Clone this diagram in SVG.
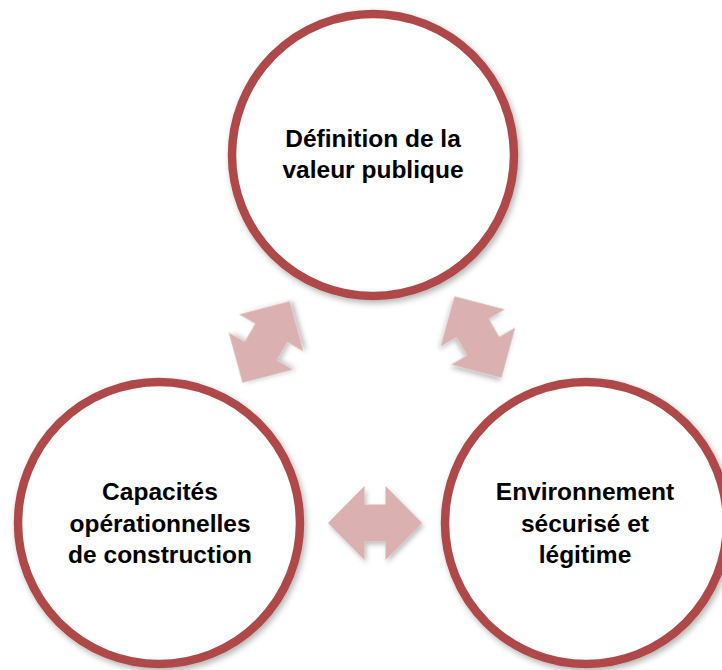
<svg xmlns="http://www.w3.org/2000/svg" width="722" height="670" viewBox="0 0 722 670">
<defs>
<style>
.node circle{fill:#ffffff;stroke:#AF4A48;stroke-width:8.5;filter:url(#sh)}
.node text{font-family:"Liberation Sans",Arial,sans-serif;font-weight:bold;font-size:24.5px;fill:#000;text-anchor:middle}
.arr{fill:#DAB0B0;filter:url(#sh2)}
</style>
<filter id="sh" x="-20%" y="-20%" width="140%" height="140%">
<feDropShadow dx="2" dy="3" stdDeviation="3" flood-color="#000" flood-opacity="0.3"/>
</filter>
<filter id="sh2" x="-30%" y="-30%" width="160%" height="160%">
<feDropShadow dx="2" dy="3" stdDeviation="2.5" flood-color="#000" flood-opacity="0.25"/>
</filter>
<path id="dbl" d="M -47 0 L -10.5 -37 L -10.5 -18.5 L 10.5 -18.5 L 10.5 -37 L 47 0 L 10.5 37 L 10.5 18.5 L -10.5 18.5 L -10.5 37 Z"/>
</defs>
<rect width="722" height="670" fill="#ffffff"/>
<g id="connectors">
<use href="#dbl" class="arr" transform="translate(266 342) rotate(-60)"/>
<use href="#dbl" class="arr" transform="translate(478 337) rotate(60)"/>
<use href="#dbl" class="arr" transform="translate(375 523)"/>
</g>
<g id="node-top" class="node">
<circle cx="373" cy="155" r="141"/>
<text x="373" y="147">Définition de la</text>
<text x="373" y="178">valeur publique</text>
</g>
<g id="node-left" class="node">
<circle cx="159" cy="523" r="141"/>
<text x="160" y="500">Capacités</text>
<text x="160" y="531.5">opérationnelles</text>
<text x="160" y="563">de construction</text>
</g>
<g id="node-right" class="node">
<circle cx="586" cy="523" r="141"/>
<text x="585" y="500">Environnement</text>
<text x="585" y="531.5">sécurisé et</text>
<text x="585" y="563">légitime</text>
</g>
</svg>
